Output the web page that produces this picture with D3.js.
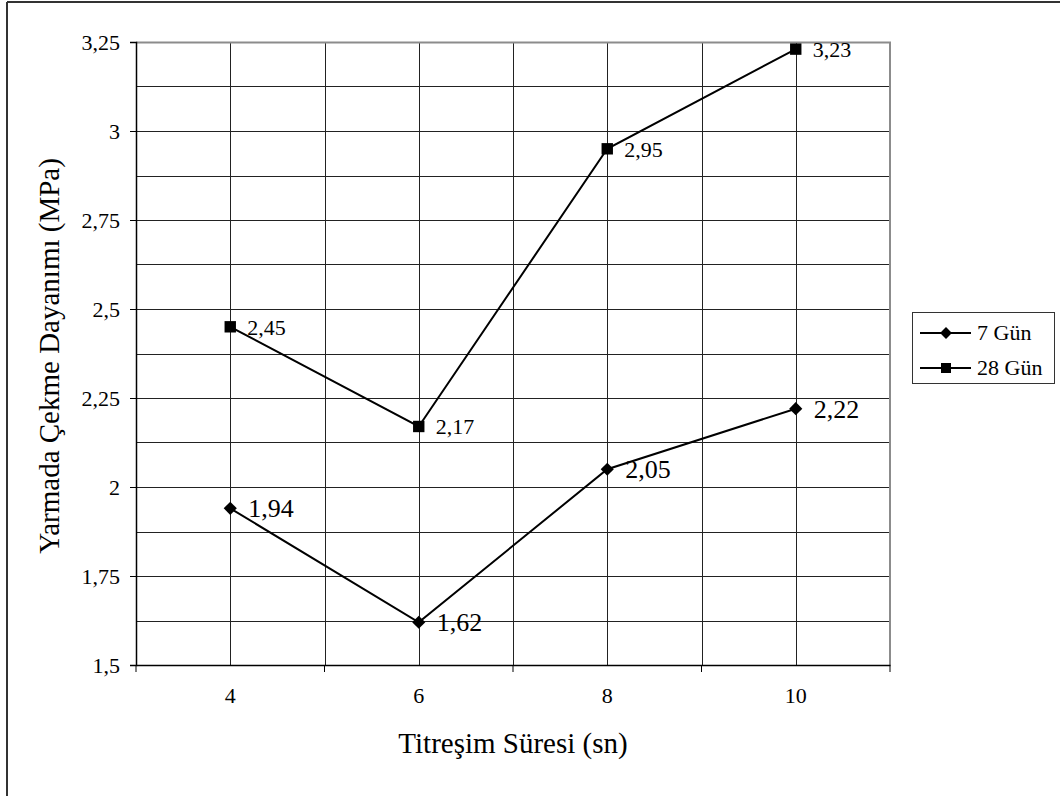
<!DOCTYPE html>
<html>
<head>
<meta charset="utf-8">
<script src="https://cdn.jsdelivr.net/npm/d3@7"></script>
<style>
  body { margin: 0; background: #fff; }
  svg { display: block; }
  text { font-family: "Liberation Serif", "DejaVu Serif", serif; fill: #000; }
</style>
</head>
<body>
<div id="chart-area"></div>
<script>

// data
var categories = ["4", "6", "8", "10"];
var gun7 = [1.94, 1.62, 2.05, 2.22];
var gun28 = [2.45, 2.17, 2.95, 3.23];
var yTicks = [1.5, 1.75, 2, 2.25, 2.5, 2.75, 3, 3.25];
var seriesNames = ["7 Gün", "28 Gün"];

var comma = function(v) { return String(v).replace(".", ","); };
var serif = "'Liberation Serif', 'DejaVu Serif', serif";

var margin = {left:136, right:170, top:42, bottom:131};
var width = 1060 - margin.left - margin.right;   // 754
var height = 796 - margin.top - margin.bottom;   // 623

var svg = d3.select("#chart-area").append("svg")
    .attr("width", 1060)
    .attr("height", 796)
    .attr("font-family", serif);

// outer frame (only top and left are visible)
svg.append("line")
    .attr("x1", 7).attr("x2", 1060).attr("y1", 2).attr("y2", 2)
    .attr("stroke", "#333").attr("stroke-width", 2);
svg.append("line")
    .attr("x1", 7).attr("x2", 7).attr("y1", 2).attr("y2", 796)
    .attr("stroke", "#333").attr("stroke-width", 2);

var g = svg.append("g")
    .attr("transform", "translate(" + margin.left + "," + margin.top + ")");

var x = d3.scaleBand()
    .domain(categories)
    .range([0, width])
    .padding(0);

var y = d3.scaleLinear()
    .domain([1.5, 3.25])
    .range([height, 0]);

var bw = x.bandwidth();
var cx = function(c) { return x(c) + bw / 2; };

// horizontal gridlines every 0.125
var hGrid = d3.range(1.625, 3.2, 0.125);
g.selectAll(".hgrid").data(hGrid).enter().append("line")
    .attr("class", "hgrid")
    .attr("x1", 0).attr("x2", width)
    .attr("y1", function(d) { return Math.round(y(d)) + 0.5; })
    .attr("y2", function(d) { return Math.round(y(d)) + 0.5; })
    .attr("stroke", "#222").attr("stroke-width", 1);

// vertical gridlines at category centres and boundaries
var vGrid = [];
categories.forEach(function(c, i) {
    if (i > 0) vGrid.push(x(c));
    vGrid.push(cx(c));
});
g.selectAll(".vgrid").data(vGrid).enter().append("line")
    .attr("class", "vgrid")
    .attr("y1", 0).attr("y2", height)
    .attr("x1", function(d) { return Math.round(d) + 0.5; })
    .attr("x2", function(d) { return Math.round(d) + 0.5; })
    .attr("stroke", "#222").attr("stroke-width", 1);

// plot border top & right (grey)
g.append("path")
    .attr("d", "M0,0.5H" + width + "V" + height)
    .attr("fill", "none")
    .attr("stroke", "#8c8c8c").attr("stroke-width", 2);

// y axis
var yAxis = g.append("g")
    .call(d3.axisLeft(y)
        .tickValues(yTicks)
        .tickSize(6)
        .tickPadding(10)
        .tickFormat(comma));
yAxis.attr("font-family", serif);
yAxis.select(".domain").attr("stroke", "#000").attr("stroke-width", 1.5);
yAxis.selectAll(".tick line").attr("stroke", "#000");
yAxis.selectAll("text")
    .style("font-family", serif)
    .style("font-size", "22px")
    .attr("dy", "0.34em");

// x axis: labels at centres, ticks at boundaries
var xAxis = g.append("g")
    .attr("transform", "translate(0," + height + ")")
    .call(d3.axisBottom(x).tickSize(0).tickPadding(22));
xAxis.attr("font-family", serif);
xAxis.select(".domain").attr("stroke", "#000").attr("stroke-width", 1.5);
xAxis.selectAll("text")
    .style("font-family", serif)
    .style("font-size", "22px");

var bounds = categories.map(function(c) { return x(c); }).concat([width]);
xAxis.selectAll(".bt").data(bounds).enter().append("line")
    .attr("class", "bt")
    .attr("x1", function(d) { return d; }).attr("x2", function(d) { return d; })
    .attr("y1", 0).attr("y2", 7)
    .attr("stroke", "#000").attr("stroke-width", 1);

// axis titles
g.append("text")
    .attr("x", width / 2)
    .attr("y", height + 88)
    .attr("text-anchor", "middle")
    .style("font-size", "29px")
    .text("Titreşim Süresi (sn)");

g.append("text")
    .attr("transform", "rotate(-90)")
    .attr("x", -(356 - margin.top))
    .attr("y", -77)
    .attr("text-anchor", "middle")
    .style("font-size", "29px")
    .text("Yarmada Çekme Dayanımı (MPa)");

// lines
var line = d3.line()
    .x(function(d, i) { return cx(categories[i]); })
    .y(function(d) { return y(d); });

[gun7, gun28].forEach(function(s) {
    g.append("path")
        .datum(s)
        .attr("d", line)
        .attr("fill", "none")
        .attr("stroke", "#000")
        .attr("stroke-width", 2);
});

var diamond = d3.symbol().type(d3.symbolDiamond2).size(110);
var square = d3.symbol().type(d3.symbolSquare).size(130);

// 7 Gün markers and labels
g.selectAll(".m7").data(gun7).enter().append("path")
    .attr("class", "m7")
    .attr("d", diamond)
    .attr("transform", function(d, i) { return "translate(" + cx(categories[i]) + "," + y(d) + ")"; })
    .attr("fill", "#000");

g.selectAll(".l7").data(gun7).enter().append("text")
    .attr("class", "l7")
    .attr("x", function(d, i) { return cx(categories[i]) + 18; })
    .attr("y", function(d) { return y(d); })
    .attr("dy", "0.34em")
    .style("font-size", "26px")
    .text(comma);

// 28 Gün markers and labels
g.selectAll(".m28").data(gun28).enter().append("path")
    .attr("class", "m28")
    .attr("d", square)
    .attr("transform", function(d, i) { return "translate(" + cx(categories[i]) + "," + y(d) + ")"; })
    .attr("fill", "#000");

g.selectAll(".l28").data(gun28).enter().append("text")
    .attr("class", "l28")
    .attr("x", function(d, i) { return cx(categories[i]) + 17; })
    .attr("y", function(d) { return y(d); })
    .attr("dy", "0.36em")
    .style("font-size", "22px")
    .text(comma);

// LEGEND
var legend = svg.append("g")
    .attr("transform", "translate(912,312)");

legend.append("rect")
    .attr("x", 0.5).attr("y", 0.5)
    .attr("width", 142).attr("height", 71)
    .attr("fill", "#fff")
    .attr("stroke", "#333").attr("stroke-width", 1);

seriesNames.forEach(function(name, i) {
    var row = legend.append("g")
        .attr("transform", "translate(0," + (21 + i * 35) + ")");
    row.append("line")
        .attr("x1", 8).attr("x2", 59)
        .attr("stroke", "#000").attr("stroke-width", 2);
    row.append("path")
        .attr("d", i === 0 ? diamond.size(90)() : square.size(100)())
        .attr("transform", "translate(34,0)")
        .attr("fill", "#000");
    row.append("text")
        .attr("x", 65)
        .attr("dy", "0.34em")
        .style("font-size", "22px")
        .text(name);
});

</script>
</body>
</html>
